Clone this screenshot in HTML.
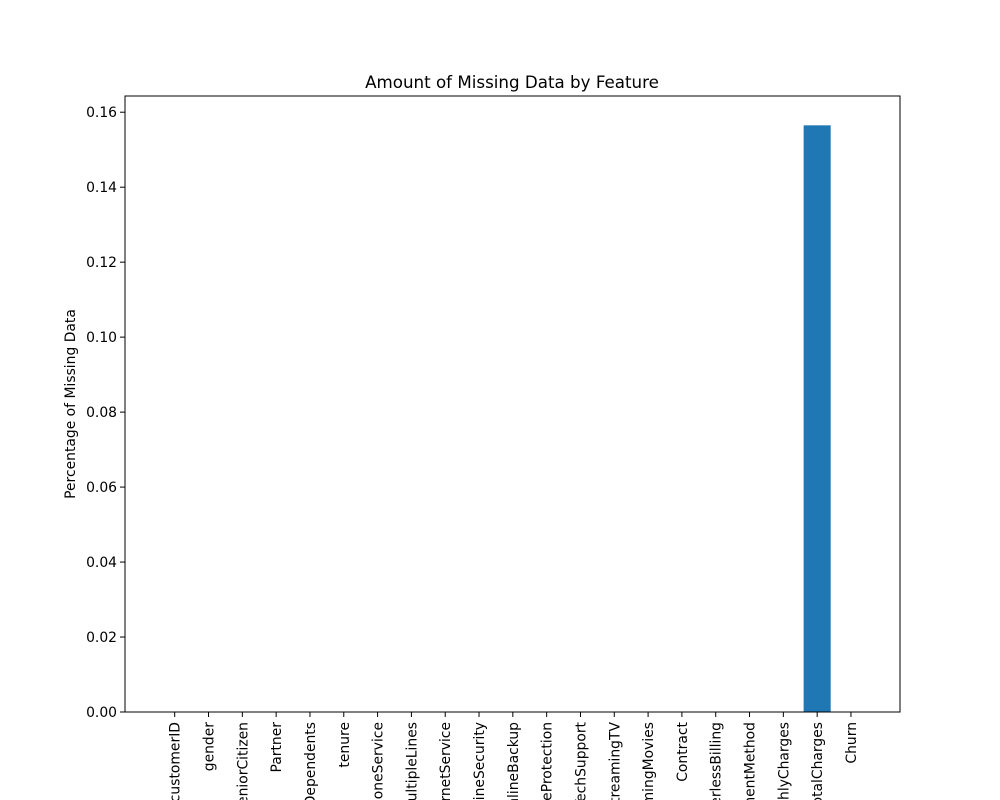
<!DOCTYPE html>
<html><head><meta charset="utf-8"><style>
html,body{margin:0;padding:0;background:#fff;width:1000px;height:800px;overflow:hidden}
svg{display:block;overflow:hidden;font-family:"DejaVu Sans","Liberation Sans",sans-serif}
</style></head><body>
<svg id="chart" width="1000" height="800" viewBox="0 0 1000 800">
<rect width="1000" height="800" fill="#fff"/>
<text x="512" y="88" text-anchor="middle" font-size="16.7">Amount of Missing Data by Feature</text>
<text transform="translate(75,404) rotate(-90)" text-anchor="middle" font-size="13.9">Percentage of Missing Data</text>
<g id="bars"></g><g id="yticks"></g><g id="xticks"></g>
<rect x="125" y="96" width="775" height="616" fill="none" stroke="#000" stroke-width="1"/>
</svg>
<script>
const categories = ["customerID","gender","SeniorCitizen","Partner","Dependents","tenure","PhoneService","MultipleLines","InternetService","OnlineSecurity","OnlineBackup","DeviceProtection","TechSupport","StreamingTV","StreamingMovies","Contract","PaperlessBilling","PaymentMethod","MonthlyCharges","TotalCharges","Churn"];
const missingValues = [0,0,0,0,0,0,0,0,0,0,0,0,0,0,0,0,0,0,0,0.1565,0];
const yTickLabels = ["0.00","0.02","0.04","0.06","0.08","0.10","0.12","0.14","0.16"];
const yTickValues = [0,0.02,0.04,0.06,0.08,0.10,0.12,0.14,0.16];

const NS="http://www.w3.org/2000/svg";
const L=125,R=900,T=96,B=712;
const yMax=Math.max(...missingValues)*1.05||1;
const y=v=>B-(v/yMax)*(B-T);
const n=categories.length;
const xmin=-1.47, xmax=n-1+1.45;
const x=i=>L+(i-xmin)/(xmax-xmin)*(R-L);
const bw=0.8*(R-L)/(xmax-xmin);
function mk(t,a){const e=document.createElementNS(NS,t);for(const k in a)e.setAttribute(k,a[k]);return e;}
const bars=document.getElementById('bars'),yt=document.getElementById('yticks'),xt=document.getElementById('xticks');
missingValues.forEach((v,i)=>{
  const r=mk('rect',{x:x(i)-bw/2,y:y(v),width:bw,height:B-y(v),fill:'#1f77b4'});
  
  
  bars.appendChild(r);
});
yTickValues.forEach((v,i)=>{
  const g=mk('g',{});
  
  
  g.appendChild(mk('line',{x1:L-5,x2:L,y1:y(v),y2:y(v),stroke:'#000'}));
  const t=mk('text',{x:L-8,y:y(v)+5,'text-anchor':'end','font-size':'13.9'});
  t.textContent=yTickLabels[i];g.appendChild(t);yt.appendChild(g);
});
categories.forEach((c,i)=>{
  const g=mk('g',{});
  
  
  g.appendChild(mk('line',{x1:x(i),x2:x(i),y1:B,y2:B+5,stroke:'#000'}));
  const t=mk('text',{transform:`translate(${x(i)+5},${B+10}) rotate(-90)`,'text-anchor':'end','font-size':'13.9'});
  t.textContent=c;g.appendChild(t);xt.appendChild(g);
});
</script>
</body></html>
